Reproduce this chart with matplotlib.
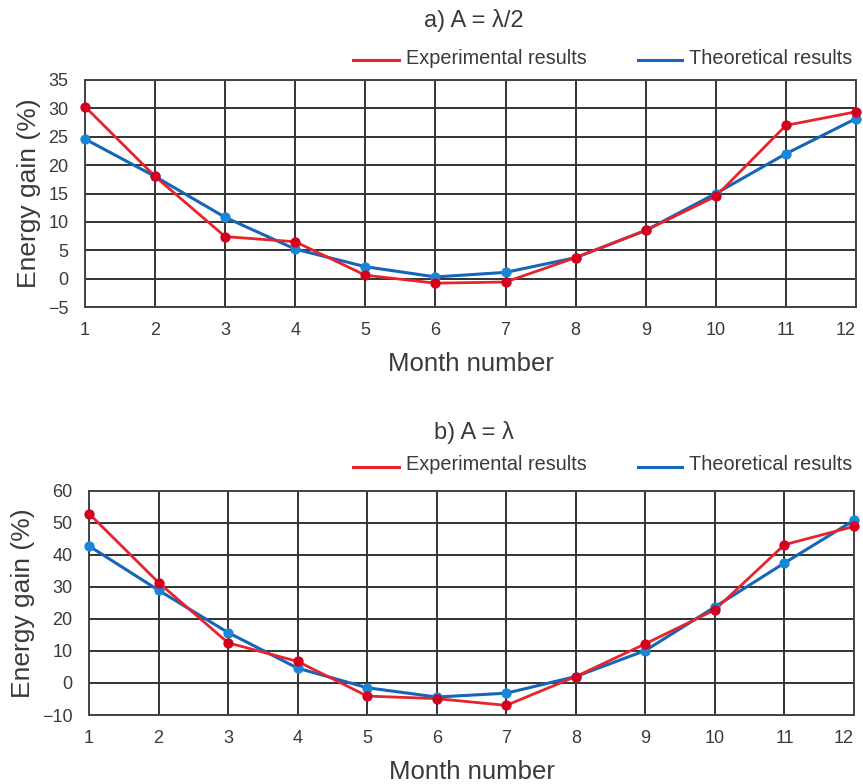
import matplotlib
matplotlib.use("Agg")
import matplotlib.pyplot as plt
from matplotlib.lines import Line2D

plt.rcParams['font.family'] = ['Liberation Sans', 'DejaVu Sans']

months = list(range(1, 13))
exp_a = [30.3, 18.0, 7.4, 6.5, 0.6, -0.8, -0.6, 3.7, 8.5, 14.5, 27.0, 29.4]
theo_a = [24.6, 18.0, 10.8, 5.2, 2.1, 0.3, 1.1, 3.7, 8.5, 15.0, 22.0, 28.2]
exp_b = [52.8, 31.3, 12.5, 6.7, -4.1, -4.9, -7.0, 2.0, 12.2, 22.8, 43.1, 48.8]
theo_b = [42.7, 28.9, 15.7, 4.6, -1.5, -4.4, -3.2, 2.0, 10.1, 23.7, 37.4, 50.7]

yticks_a = [-5, 0, 5, 10, 15, 20, 25, 30, 35]
yticks_b = [-10, 0, 10, 20, 30, 40, 50, 60]
title_a = "a) A = λ/2"
title_b = "b) A = λ"
xlabel = "Month number"
ylabel = "Energy gain (%)"
leg_exp = "Experimental results"
leg_theo = "Theoretical results"

RED_LINE = "#e8232b"
RED_MK = "#d4001e"
BLUE_LINE = "#1565b8"
BLUE_MK = "#1a86d8"
TXT = "#3a3a3a"

W, H = 863, 784
fig = plt.figure(figsize=(W / 100, H / 100), dpi=100)

def fx(px):
    return px / W

def fy(py):
    return 1 - py / H

def panel(rect, exp, theo, yticks, title, title_y, leg_y):
    ax = fig.add_axes(rect)
    ax.plot(months, theo, color=BLUE_LINE, lw=2.2, zorder=3, clip_on=False)
    ax.plot(months, exp, color=RED_LINE, lw=2.0, zorder=4, clip_on=False)
    ax.scatter(months, theo, s=55, color=BLUE_MK, zorder=5, clip_on=False, linewidths=0)
    ax.scatter(months, exp, s=55, color=RED_MK, zorder=6, clip_on=False, linewidths=0)
    ax.set_xlim(1, 12)
    ax.set_ylim(yticks[0], yticks[-1])
    ax.set_xticks(months)
    ax.set_yticks(yticks)
    ax.set_yticklabels([str(t).replace('-', '\u2212') for t in yticks])
    ax.grid(True, color="#333333", lw=1.4, zorder=1)
    for s in ax.spines.values():
        s.set_color("#444444")
        s.set_linewidth(1.4)
    ax.tick_params(length=0, labelsize=13, colors=TXT)
    ax.tick_params(axis='y', pad=12)
    ax.tick_params(axis='x', pad=11)
    labs = ax.get_xticklabels()
    labs[-1].set_horizontalalignment('right')
    labs[-1].set_x(12)
    ax.set_xlabel(xlabel, fontsize=18.5, color=TXT, labelpad=9)
    ax.set_ylabel(ylabel, fontsize=19, color=TXT, labelpad=5)
    fig.text(fx(474), fy(title_y), title, fontsize=17, color=TXT, ha='center', va='center')
    fig.add_artist(Line2D([fx(353), fx(399)], [fy(leg_y + 2), fy(leg_y + 2)], color=RED_LINE, lw=2.2))
    fig.text(fx(406), fy(leg_y), leg_exp, fontsize=14.3, color=TXT, ha='left', va='center')
    fig.add_artist(Line2D([fx(638), fx(682)], [fy(leg_y + 2), fy(leg_y + 2)], color=BLUE_LINE, lw=2.2))
    fig.text(fx(689), fy(leg_y), leg_theo, fontsize=14.3, color=TXT, ha='left', va='center')
    return ax

panel([fx(85), fy(307), fx(856) - fx(85), fy(80) - fy(307)], exp_a, theo_a, yticks_a, title_a, 20, 58)
panel([fx(89), fy(715), fx(854) - fx(89), fy(490.5) - fy(715)], exp_b, theo_b, yticks_b, title_b, 433, 465)

fig.savefig("out.png", dpi=100, facecolor="white")
